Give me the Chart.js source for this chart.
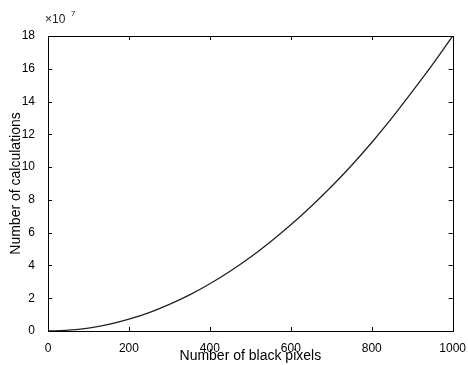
<!DOCTYPE html>
<html>
<head>
<meta charset="utf-8">
<script src="https://cdn.jsdelivr.net/npm/chart.js@4/dist/chart.umd.min.js"></script>
<style>
  html, body { margin: 0; padding: 0; background: #fff; }
  #wrap { width: 468px; height: 365px; }
</style>
</head>
<body>
<div id="wrap"><canvas id="myChart" width="468" height="365"></canvas></div>
<script>
// number of black pixels
const pixels = [0, 50, 100, 150, 200, 250, 300, 350, 400, 450, 500,
                550, 600, 650, 700, 750, 800, 850, 900, 950, 1000];
// number of calculations, in units of 10^7
const calcs = [0, 0.05, 0.18, 0.4, 0.72, 1.12, 1.62, 2.2, 2.88, 3.65, 4.5,
               5.45, 6.48, 7.6, 8.8, 10.1, 11.5, 13.0, 14.6, 16.25, 18.0];
const xTicks = [0, 200, 400, 600, 800, 1000];
const yTicks = [0, 2, 4, 6, 8, 10, 12, 14, 16, 18];

const fontFam = "'Liberation Sans', Arial, sans-serif";

// box around the plot, ticks pointing inward, and the x10^7 label
const boxPlugin = {
  id: "box",
  afterDraw(chart) {
    const ctx = chart.ctx;
    const a = chart.chartArea;
    const xs = chart.scales.x, ys = chart.scales.y;
    ctx.save();
    ctx.strokeStyle = "#000";
    ctx.lineWidth = 1;
    ctx.strokeRect(Math.round(a.left) + 0.5, Math.round(a.top) + 0.5,
                   Math.round(a.right - a.left), Math.round(a.bottom - a.top));
    ctx.beginPath();
    xTicks.forEach(v => {
      const px = Math.round(xs.getPixelForValue(v)) + 0.5;
      ctx.moveTo(px, a.bottom); ctx.lineTo(px, a.bottom - 4);
      ctx.moveTo(px, a.top); ctx.lineTo(px, a.top + 4);
    });
    yTicks.forEach(v => {
      const py = Math.round(ys.getPixelForValue(v)) + 0.5;
      ctx.moveTo(a.left, py); ctx.lineTo(a.left + 4, py);
      ctx.moveTo(a.right, py); ctx.lineTo(a.right - 4, py);
    });
    ctx.stroke();
    ctx.fillStyle = "#222";
    ctx.textBaseline = "alphabetic";
    ctx.textAlign = "left";
    ctx.font = "12px " + fontFam;
    ctx.fillText("\u00d710", a.left - 3, a.top - 13);
    ctx.font = "8px " + fontFam;
    ctx.fillText("7", a.left + 23, a.top - 20);
    ctx.restore();
  }
};

new Chart(document.getElementById("myChart"), {
  type: "line",
  data: {
    datasets: [{
      data: pixels.map((p, i) => ({ x: p, y: calcs[i] })),
      borderColor: "#222",
      borderWidth: 1.3,
      pointRadius: 0,
      cubicInterpolationMode: "monotone",
      fill: false
    }]
  },
  options: {
    responsive: false,
    animation: false,
    layout: { padding: { left: 0, right: 15, top: 36, bottom: 0 } },
    plugins: { legend: { display: false }, tooltip: { enabled: false } },
    scales: {
      x: {
        type: "linear",
        min: 0, max: 1000,
        afterBuildTicks: s => { s.ticks = xTicks.map(v => ({ value: v })); },
        afterFit: s => { s.height = 34; },
        grid: { display: false },
        border: { display: false },
        ticks: { color: "#000", font: { size: 12, family: fontFam }, padding: 2, maxRotation: 0,
                 callback: v => String(v) },
        title: { display: true, text: "Number of black pixels", color: "#000",
                 font: { size: 14, family: fontFam }, padding: { top: 0, bottom: 0 } }
      },
      y: {
        min: 0, max: 18,
        afterBuildTicks: s => { s.ticks = yTicks.map(v => ({ value: v })); },
        afterFit: s => { s.width = 48; },
        grid: { display: false },
        border: { display: false },
        ticks: { color: "#000", font: { size: 12, family: fontFam }, padding: 5 },
        title: { display: true, text: "Number of calculations", color: "#000",
                 font: { size: 14, family: fontFam }, padding: { top: 8, bottom: 0 } }
      }
    }
  },
  plugins: [boxPlugin]
});
</script>
</body>
</html>
